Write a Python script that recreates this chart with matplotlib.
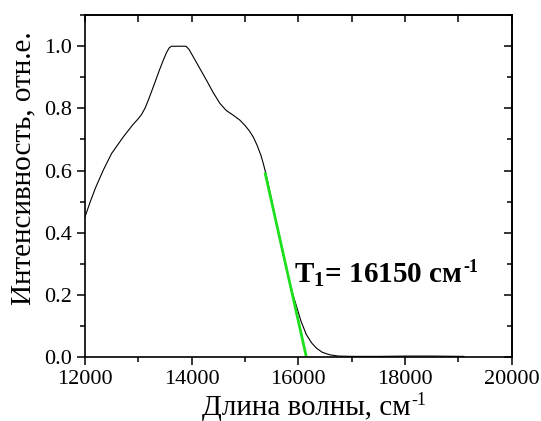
import numpy as np
import matplotlib
matplotlib.use("Agg")
import matplotlib.pyplot as plt
from matplotlib.ticker import MultipleLocator, FormatStrFormatter

plt.rcParams["font.family"] = ["Liberation Serif", "DejaVu Serif"]
plt.rcParams["mathtext.fontset"] = "custom"
plt.rcParams["mathtext.rm"] = "Liberation Serif"
plt.rcParams["mathtext.bf"] = "Liberation Serif:bold"

# Normalised spectrum (wavenumber, cm^-1 ; relative intensity)
wavenumber = [12000, 12100, 12200, 12343, 12500, 12718, 12900, 12980, 13060,
              13130, 13200, 13300, 13400, 13468, 13530, 13580, 13624, 13760,
              13893, 13950, 14030, 14155, 14280, 14400, 14530, 14650, 14780,
              14905, 15000, 15080, 15155, 15230, 15300, 15342, 15392, 15500,
              15600, 15700, 15800, 15900, 15967, 16050, 16150, 16250, 16342,
              16450, 16591, 16750, 17000, 17500, 18000, 18500, 19100]
intensity = [0.450, 0.500, 0.545, 0.601, 0.655, 0.708, 0.748, 0.763, 0.780,
             0.802, 0.832, 0.878, 0.925, 0.955, 0.980, 0.995, 1.000, 1.000,
             1.000, 0.990, 0.966, 0.928, 0.890, 0.852, 0.816, 0.793, 0.778,
             0.762, 0.745, 0.728, 0.708, 0.680, 0.648, 0.623, 0.590, 0.505,
             0.420, 0.340, 0.265, 0.200, 0.162, 0.115, 0.072, 0.045, 0.028,
             0.015, 0.007, 0.003, 0.002, 0.002, 0.003, 0.003, 0.002]

# Linear extrapolation of the absorption edge
edge_x = [15380, 16150]
edge_y = [0.59, 0.0]
edge_label = "16150"

fig = plt.figure(figsize=(5.41, 4.21), dpi=100)
ax = fig.add_axes([0.157, 0.152, 0.789, 0.812])

ax.plot(wavenumber, intensity, color="black", lw=0.8,
        solid_joinstyle="round")
ax.plot(edge_x, edge_y, color="#1ee01e", lw=2.0)

ax.set_xlim(12000, 20000)
ax.set_ylim(0, 1.1)
ax.xaxis.set_major_locator(MultipleLocator(2000))
ax.xaxis.set_minor_locator(MultipleLocator(1000))
ax.yaxis.set_major_locator(MultipleLocator(0.2))
ax.yaxis.set_minor_locator(MultipleLocator(0.1))
ax.yaxis.set_major_formatter(FormatStrFormatter("%.1f"))

for s in ax.spines.values():
    s.set_linewidth(1.2)

ax.tick_params(which="both", direction="out", top=False, right=False,
               labelsize=16, width=1.1, pad=3)
ax.tick_params(which="major", length=6)
ax.tick_params(which="minor", length=3.5)

# inward mirror ticks on top and right
sec_x = ax.secondary_xaxis("top")
sec_x.xaxis.set_major_locator(MultipleLocator(1000))
sec_x.tick_params(direction="in", length=5, width=1.1)
sec_x.set_xticklabels([])
sec_y = ax.secondary_yaxis("right")
sec_y.yaxis.set_major_locator(MultipleLocator(0.2))
sec_y.yaxis.set_minor_locator(MultipleLocator(0.1))
sec_y.tick_params(which="major", direction="in", length=6, width=1.1)
sec_y.tick_params(which="minor", direction="in", length=3.5, width=1.1)
sec_y.set_yticklabels([])
for s in list(sec_x.spines.values()) + list(sec_y.spines.values()):
    s.set_linewidth(1.2)

W, H = 541.0, 421.0


def add_superscript(txt, text, size, dx=1.0, dy=0.0):
    """Place a small '-1' style superscript right after a text artist."""
    fig.canvas.draw()
    bb = txt.get_window_extent()
    return fig.text((bb.x1 + dx) / W, (bb.y1 + dy) / H, text, fontsize=size,
                    fontweight=txt.get_fontweight(), ha="left", va="top")


# axis titles
xl = fig.text(306 / W, 1 - 415 / H, "Длина волны, см", fontsize=21,
              ha="center", va="baseline")
add_superscript(xl, "-1", 13, dx=1, dy=3)

fig.text(23 / W, 1 - 168 / H, "Интенсивность, отн.е.", fontsize=21,
         rotation=90, ha="center", va="center")

# edge annotation
ann = ax.text(15925, 0.240, r"$\mathbf{T_1}$= " + edge_label + " см",
              fontsize=21, fontweight="bold", ha="left", va="baseline")
add_superscript(ann, "-1", 13, dx=1, dy=2)

fig.savefig("out.png", dpi=100)
